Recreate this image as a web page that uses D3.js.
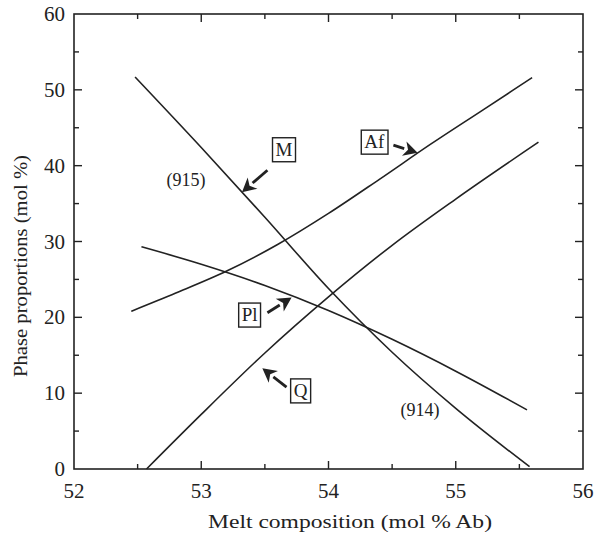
<!DOCTYPE html>
<html><head><meta charset="utf-8">
<script src="https://cdn.jsdelivr.net/npm/d3@7"></script>
<style>body{margin:0;background:#fff}svg{display:block}</style>
</head><body><svg id="c" width="595" height="540"></svg>
<script>
// ---- data ----
const mX  = [52.48, 53.0, 53.5, 54.0, 54.5, 55.0, 55.58];
const mY  = [51.7, 42.4, 33.2, 23.8, 15.4, 8.0, 0.3];
const afX = [52.45, 52.8, 53.2, 53.6, 54.0, 54.4, 54.8, 55.2, 55.6];
const afY = [20.8, 23.2, 26.1, 29.6, 33.7, 38.2, 42.8, 47.2, 51.6];
const qX  = [52.57, 53.0, 53.5, 54.0, 54.5, 55.0, 55.65];
const qY  = [0.0, 7.2, 15.3, 22.7, 29.5, 35.6, 43.1];
const plX = [52.53, 53.0, 53.5, 54.0, 54.5, 55.0, 55.56];
const plY = [29.3, 27.0, 24.2, 20.9, 17.1, 12.9, 7.8];
const xTicks = [52, 53, 54, 55, 56];
const yTicks = [0, 10, 20, 30, 40, 50, 60];
const boxLabels = ["M", "Af", "Pl", "Q"];
const boxX = [53.65, 54.36, 53.38, 53.78];
const boxY = [42.1, 43.1, 20.3, 10.3];
const arrowFromX = [53.52, 54.51, 53.52, 53.67];
const arrowFromY = [39.4, 42.7, 20.6, 10.8];
const arrowToX = [53.32, 54.70, 53.71, 53.48];
const arrowToY = [36.5, 41.7, 22.6, 13.3];
const noteText = ["(915)", "(914)"];
const noteX = [52.88, 54.72];
const noteY = [38.1, 7.8];
const xTitle = "Melt composition (mol % Ab)";
const yTitle = "Phase proportions (mol %)";

const FONT = "'Liberation Serif', 'Times New Roman', Times, serif";
const L = 74, R = 583, T = 14, B = 469;
const svg = d3.select("#c");
const x = d3.scaleLinear().domain([52, 56]).range([L, R]);
const y = d3.scaleLinear().domain([0, 60]).range([B, T]);
const ink = "#222";

// frame
svg.append("rect").attr("x", L).attr("y", T).attr("width", R - L).attr("height", B - T)
  .attr("fill", "none").attr("stroke", ink).attr("stroke-width", 1.6);

// ticks (inward) on all sides
const xMinor = d3.range(52.5, 56, 1);
const yMinor = d3.range(5, 60, 10);
function tickSet(vals, len, side) {
  vals.forEach(v => {
    if (side === "b") svg.append("line").attr("x1", x(v)).attr("x2", x(v)).attr("y1", B).attr("y2", B - len);
    if (side === "t") svg.append("line").attr("x1", x(v)).attr("x2", x(v)).attr("y1", T).attr("y2", T + len);
    if (side === "l") svg.append("line").attr("y1", y(v)).attr("y2", y(v)).attr("x1", L).attr("x2", L + len);
    if (side === "r") svg.append("line").attr("y1", y(v)).attr("y2", y(v)).attr("x1", R).attr("x2", R - len);
  });
}
["b", "t"].forEach(s => { tickSet(xTicks.slice(1, -1), 8, s); tickSet(xMinor, 5, s); });
["l", "r"].forEach(s => { tickSet(yTicks.slice(1, -1), 8, s); tickSet(yMinor, 5, s); });
svg.selectAll("line").attr("stroke", ink).attr("stroke-width", 1.4);

function txt(sel) { return sel.attr("font-family", FONT).attr("fill", ink); }

// tick labels
txt(svg.selectAll(".xl").data(xTicks).join("text").attr("class", "xl")
  .attr("x", d => x(d)).attr("y", 498).attr("text-anchor", "middle").attr("font-size", 21).text(d => d));
txt(svg.selectAll(".yl").data(yTicks).join("text").attr("class", "yl")
  .attr("x", 65).attr("y", d => y(d) + 7).attr("text-anchor", "end").attr("font-size", 21).text(d => d));

// titles
txt(svg.append("text").attr("x", 350).attr("y", 528).attr("text-anchor", "middle").attr("font-size", 19)
  .attr("textLength", 284).attr("lengthAdjust", "spacingAndGlyphs").text(xTitle));
txt(svg.append("text").attr("transform", "translate(27,266) rotate(-90)").attr("text-anchor", "middle")
  .attr("font-size", 19).attr("textLength", 222).attr("lengthAdjust", "spacingAndGlyphs").text(yTitle));

// curves
const line = d3.line().x(d => x(d[0])).y(d => y(d[1])).curve(d3.curveMonotoneX);
[[mX, mY], [afX, afY], [qX, qY], [plX, plY]].forEach(([xs, ys]) => {
  svg.append("path").attr("d", line(xs.map((v, i) => [v, ys[i]])))
    .attr("fill", "none").attr("stroke", ink).attr("stroke-width", 1.6);
});

// notes
noteText.forEach((t, i) => {
  txt(svg.append("text").attr("x", x(noteX[i])).attr("y", y(noteY[i]) + 6).attr("text-anchor", "middle")
    .attr("font-size", 18).text(t));
});

// boxed labels + arrows
boxLabels.forEach((t, i) => {
  const g = svg.append("g");
  const tx = txt(g.append("text").attr("x", x(boxX[i])).attr("y", y(boxY[i]) + 6).attr("text-anchor", "middle")
    .attr("font-size", 19).text(t));
  const bb = tx.node().getBBox();
  g.insert("rect", "text").attr("x", bb.x - 3).attr("y", y(boxY[i]) - 12).attr("width", bb.width + 6).attr("height", 24)
    .attr("fill", "#fff").attr("stroke", ink).attr("stroke-width", 1.4);
  const x1 = x(arrowFromX[i]), y1 = y(arrowFromY[i]), x2 = x(arrowToX[i]), y2 = y(arrowToY[i]);
  const a = Math.atan2(y2 - y1, x2 - x1);
  const hl = 14, hw = 7.5;
  const bx = x2 - hl * Math.cos(a), by = y2 - hl * Math.sin(a);
  svg.append("line").attr("x1", x1).attr("y1", y1).attr("x2", bx).attr("y2", by)
    .attr("stroke", ink).attr("stroke-width", 2.8);
  const pts = [[x2, y2], [bx + hw * Math.sin(a), by - hw * Math.cos(a)],
    [x2 - (hl - 4) * Math.cos(a), y2 - (hl - 4) * Math.sin(a)],
    [bx - hw * Math.sin(a), by + hw * Math.cos(a)]];
  svg.append("polygon").attr("points", pts.map(p => p.join(",")).join(" ")).attr("fill", ink);
});
</script></body></html>
